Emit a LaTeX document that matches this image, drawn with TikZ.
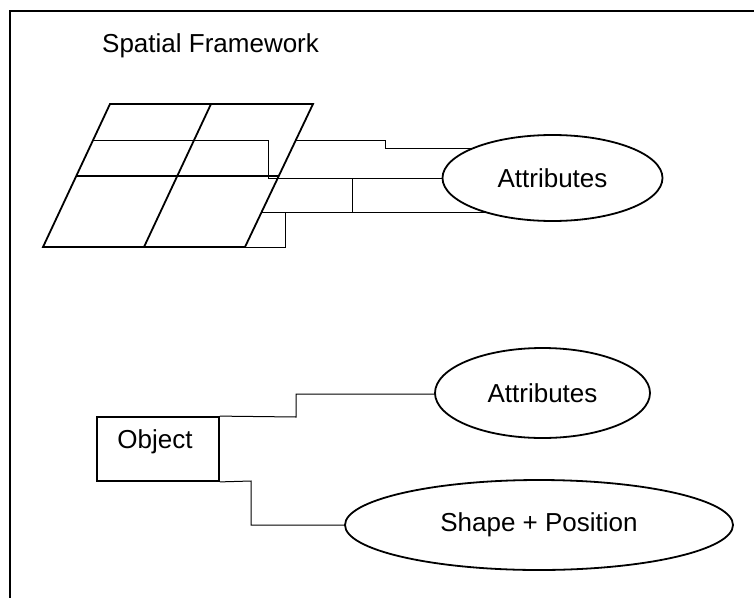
\documentclass[tikz,border=0pt]{standalone}
\usepackage{fontspec}
\setmainfont{Liberation Sans}
\usetikzlibrary{shapes.geometric}
\pgfdeclarelayer{background}
\pgfsetlayers{background,main}
\begin{document}
\begin{tikzpicture}[x=1pt,y=-1pt,
  thickline/.style={line width=1.8pt},
  conn/.style={line width=1pt},
  bubble/.style={ellipse,draw,line width=1.8pt,fill=white,inner sep=0pt,
    font=\fontsize{26}{30}\selectfont},
  lbl/.style={inner sep=0pt,font=\fontsize{26}{30}\selectfont}]
\useasboundingbox (0,0) rectangle (754,597);
% frame
\draw[line width=2pt] (10,600) -- (10,11) -- (760,11);
% title
\node[lbl,anchor=base west] (title) at (102,52) {Spatial Framework};
% grid corners
\coordinate (tl) at (110,104);
\coordinate (tr) at (313,104);
\coordinate (bl) at (43,247);
\coordinate (br) at (245,247);
\coordinate (tm) at (211,104);
\coordinate (bm) at (144,247);
\coordinate (ml) at (76.3,176);
\coordinate (mr) at (279.3,176);
\draw[thickline,line join=miter] (tl) -- (tr) -- (br) -- (bl) -- cycle;
\draw[thickline] (tm) -- (bm);
\draw[thickline] (ml) -- (mr);
% ellipses
\node[bubble,minimum width=220pt,minimum height=86pt] (attA) at (552.5,178) {Attributes};
\node[bubble,minimum width=215pt,minimum height=90pt] (attB) at (542.5,393) {Attributes};
\node[bubble,minimum width=388pt,minimum height=90pt] (shp) at (539,525) {Shape + Position};
% object box
\node[draw,line width=1.8pt,minimum width=122pt,minimum height=64pt,inner sep=0pt] (obj) at (158,449) {};
\node[lbl] (objlbl) at (155,442) {Object};
% grid connectors
\coordinate (pA) at (93.1,140);
\coordinate (pB) at (295.9,140);
\coordinate (pC) at (261.6,212);
\begin{pgfonlayer}{background}
\draw[conn] (pA) -- (268,140) -- (268,178) -- (attA.center);
\draw[conn] (pB) -- (385,140) -- (385,148) -- (attA.center |- 0,148);
\draw[conn] (pC) -- (352,212) -- (352,178);
\draw[conn] (pC) -- (attA.center |- 0,212);
\draw[conn] (br) -- (285,247) -- (285,212);
\draw[conn] (obj.north east) -- (296,417) -- (296,394) -- (attB.center |- 0,394);
\draw[conn] (obj.south east) -- (251,481) -- (251,525) -- (shp.center);
\end{pgfonlayer}
\end{tikzpicture}
\end{document}
